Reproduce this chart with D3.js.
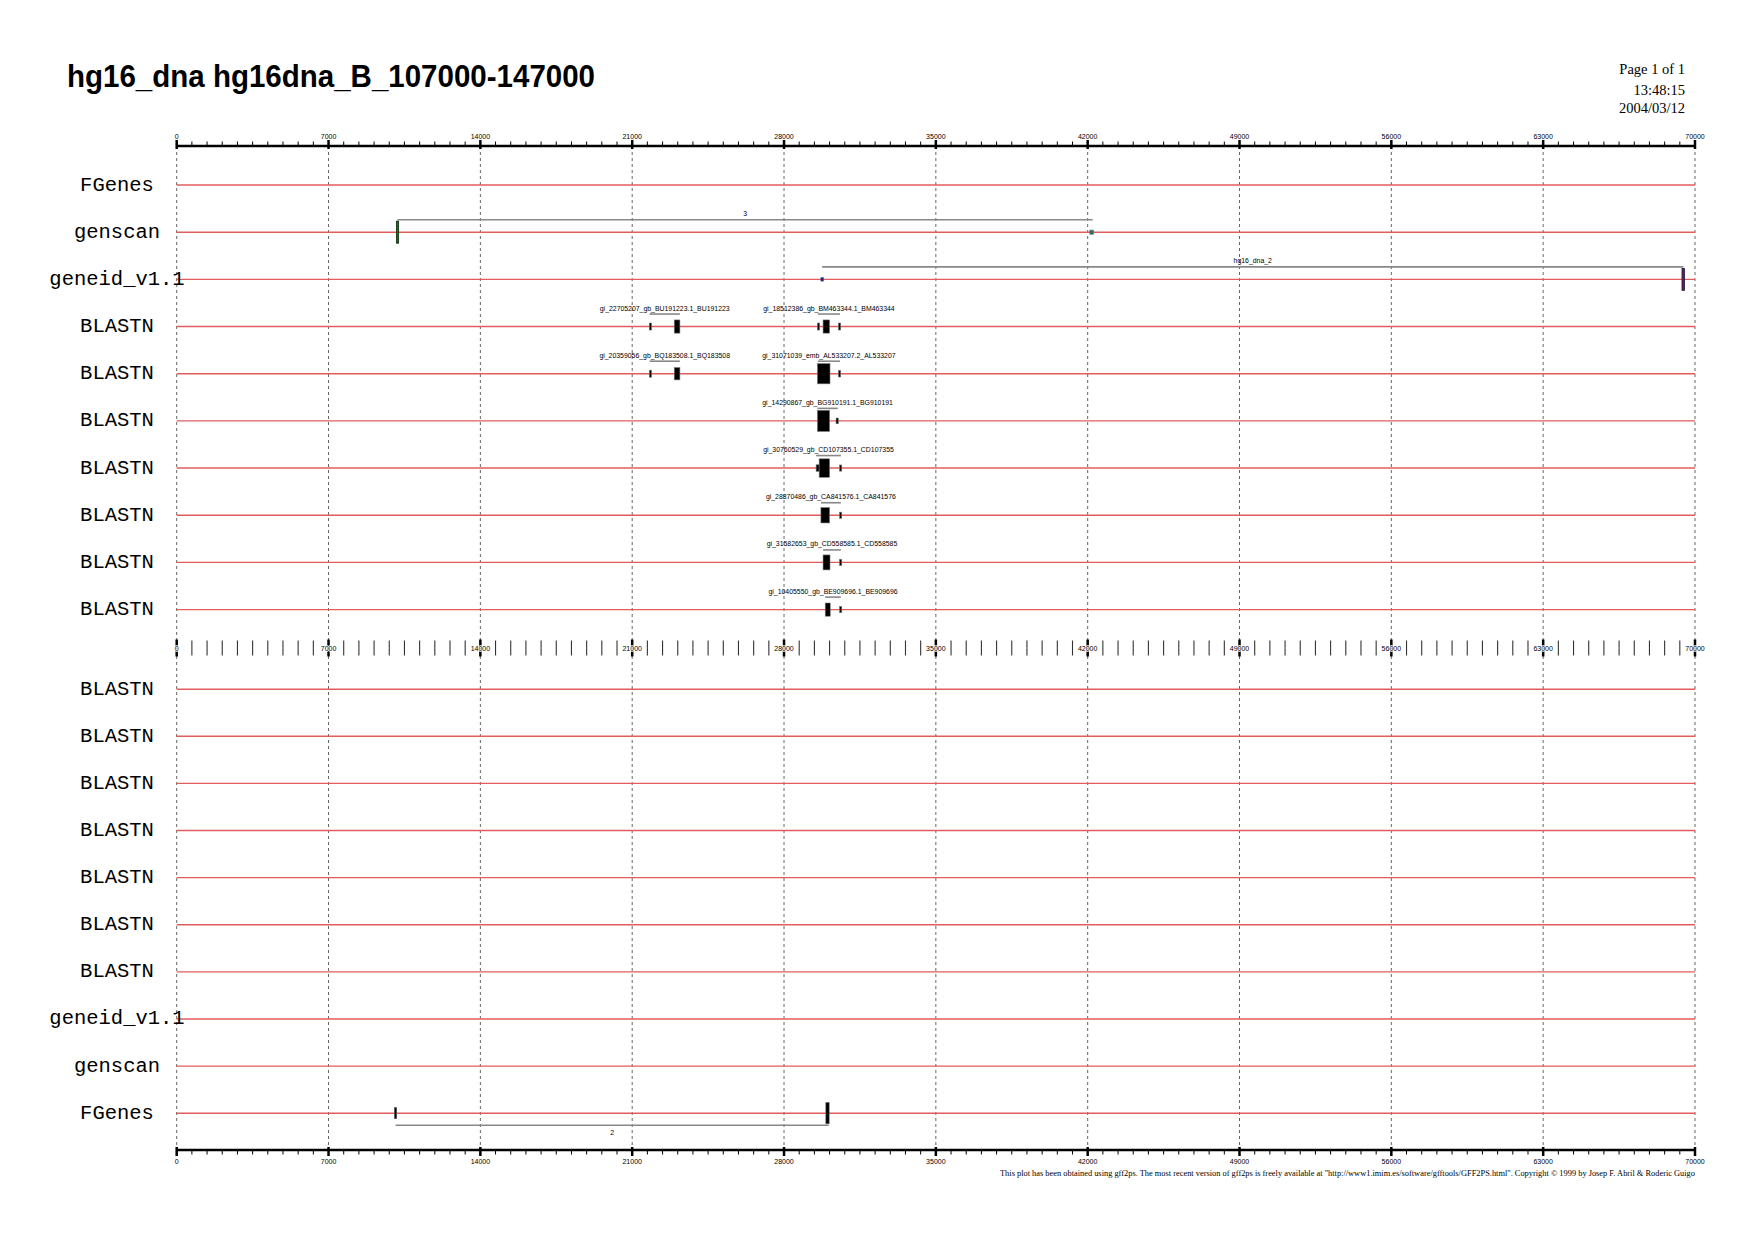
<!DOCTYPE html>
<html><head><meta charset="utf-8">
<script src="https://cdn.jsdelivr.net/npm/d3@7"></script>
<style>html,body{margin:0;padding:0;background:#fff;}svg{display:block;}</style>
</head><body>
<script>
// ---------- DATA ----------
const title = "hg16_dna hg16dna_B_107000-147000";
const headerLines = ["Page 1 of 1", "13:48:15", "2004/03/12"];
const footer = "This plot has been obtained using gff2ps. The most recent version of gff2ps is freely available at \"http://www1.imim.es/software/gfftools/GFF2PS.html\". Copyright \u00A9  1999 by Josep F. Abril & Roderic Guigo";
const seqDomain = [0, 70000];
const majorTicks = [0, 7000, 14000, 21000, 28000, 35000, 42000, 49000, 56000, 63000, 70000];
const minorStep = 700;
const topTracks = ["FGenes", "genscan", "geneid_v1.1", "BLASTN", "BLASTN", "BLASTN", "BLASTN", "BLASTN", "BLASTN", "BLASTN"];
const bottomTracks = ["BLASTN", "BLASTN", "BLASTN", "BLASTN", "BLASTN", "BLASTN", "BLASTN", "geneid_v1.1", "genscan", "FGenes"];

// features: [panel, row, start, end, score, source]
const features = [
  ["top", 1, 10130, 10230, 1.00, "genscan"],
  ["top", 1, 42100, 42260, 0.18, "genscan_s"],
  ["top", 2, 29700, 29820, 0.16, "geneid_s"],
  ["top", 2, 69400, 69520, 1.00, "geneid"],
  ["top", 3, 21790, 21870, 0.32, "blast"],
  ["top", 3, 22940, 23200, 0.60, "blast"],
  ["top", 3, 29540, 29640, 0.32, "blast"],
  ["top", 3, 29800, 30100, 0.60, "blast"],
  ["top", 3, 30510, 30600, 0.32, "blast"],
  ["top", 4, 21790, 21870, 0.32, "blast"],
  ["top", 4, 22940, 23200, 0.56, "blast"],
  ["top", 4, 29540, 30120, 0.92, "blast"],
  ["top", 4, 30510, 30600, 0.30, "blast"],
  ["top", 5, 29540, 30100, 0.96, "blast"],
  ["top", 5, 30400, 30500, 0.26, "blast"],
  ["top", 6, 29480, 29620, 0.30, "blast"],
  ["top", 6, 29620, 30100, 0.84, "blast"],
  ["top", 6, 30560, 30650, 0.28, "blast"],
  ["top", 7, 29700, 30100, 0.70, "blast"],
  ["top", 7, 30560, 30650, 0.28, "blast"],
  ["top", 8, 29800, 30120, 0.68, "blast"],
  ["top", 8, 30560, 30650, 0.28, "blast"],
  ["top", 9, 29900, 30130, 0.60, "blast"],
  ["top", 9, 30560, 30650, 0.28, "blast"],
  ["bottom", 9, 10040, 10140, 0.50, "fgenes"],
  ["bottom", 9, 29930, 30080, 0.96, "fgenes"]
];

// groups: [panel, row, start, end, label, side]
const groups = [
  ["top", 1, 10178, 42230, "3", "above"],
  ["top", 2, 29757, 69465, "hg16_dna_2", "above"],
  ["top", 3, 21800, 23200, "gi_22705207_gb_BU191223.1_BU191223", "above"],
  ["top", 3, 29560, 30580, "gi_18512386_gb_BM463344.1_BM463344", "above"],
  ["top", 4, 21800, 23200, "gi_20359056_gb_BQ183508.1_BQ183508", "above"],
  ["top", 4, 29560, 30580, "gi_31071039_emb_AL533207.2_AL533207", "above"],
  ["top", 5, 29540, 30480, "gi_14290867_gb_BG910191.1_BG910191", "above"],
  ["top", 6, 29480, 30620, "gi_30760529_gb_CD107355.1_CD107355", "above"],
  ["top", 7, 29700, 30620, "gi_28870486_gb_CA841576.1_CA841576", "above"],
  ["top", 8, 29800, 30620, "gi_31582653_gb_CD558585.1_CD558585", "above"],
  ["top", 9, 29900, 30620, "gi_10405550_gb_BE909696.1_BE909696", "above"],
  ["bottom", 9, 10090, 30060, "2", "below"]
];

// ---------- DRAW ----------
const W = 1754, H = 1240;
const svg = d3.select("body").append("svg").attr("width", W).attr("height", H);

const x = d3.scaleLinear().domain(seqDomain).range([176.7, 1695]);
const rowTop = d3.scaleLinear().domain([0, 9]).range([185, 609.6]);
const rowBottom = d3.scaleLinear().domain([0, 9]).range([689.2, 1113.2]);
const rowY = (panel, r) => panel === "top" ? rowTop(r) : rowBottom(r);
const hScale = d3.scaleLinear().domain([0, 1]).range([0, 22]);

const styles = {
  genscan: {fill: "#1d6a1d", stroke: "#0a2a0a", sw: 0.8},
  genscan_s: {fill: "#2c6a6a", stroke: "#557777", sw: 0.8},
  geneid_s: {fill: "#1b1d6e", stroke: "#5555aa", sw: 0.6},
  geneid: {fill: "#6b1e3a", stroke: "#1b1d4e", sw: 0.8},
  blast: {fill: "#000", stroke: "#777", sw: 0.6},
  fgenes: {fill: "#000", stroke: "#555", sw: 0.6}
};

// Header
svg.append("text").attr("x", 67).attr("y", 87)
  .attr("font-family", "Liberation Sans, Arial, sans-serif").attr("font-weight", "bold")
  .attr("font-size", 32).attr("textLength", 528).attr("lengthAdjust", "spacingAndGlyphs")
  .attr("fill", "#000").text(title);

svg.selectAll("text.hdr").data(headerLines).join("text").attr("class", "hdr")
  .attr("x", 1685).attr("y", (d, i) => [74, 94.5, 113][i])
  .attr("text-anchor", "end").attr("font-family", "Liberation Serif, Times New Roman, serif")
  .attr("font-size", 14.5).attr("fill", "#000").text(d => d);

// Grid dashed lines
const topAxisY = 146, midAxisY = 648, botAxisY = 1150;
svg.append("g").selectAll("line").data(majorTicks).join("line")
  .attr("x1", d => x(d)).attr("x2", d => x(d))
  .attr("y1", topAxisY).attr("y2", botAxisY)
  .attr("stroke", "#555").attr("stroke-width", 0.9).attr("stroke-dasharray", "3,3");

const minorTicks = d3.range(seqDomain[0], seqDomain[1] + 1, minorStep).filter(v => v % 7000 !== 0);

// Top axis
const ta = svg.append("g");
ta.append("line").attr("x1", x(0)).attr("x2", x(70000)).attr("y1", topAxisY).attr("y2", topAxisY)
  .attr("stroke", "#000").attr("stroke-width", 2.5);
ta.selectAll("line.mn").data(minorTicks).join("line").attr("class", "mn")
  .attr("x1", d => x(d)).attr("x2", d => x(d)).attr("y1", topAxisY - 4.5).attr("y2", topAxisY)
  .attr("stroke", "#000").attr("stroke-width", 1);
ta.selectAll("line.mj").data(majorTicks).join("line").attr("class", "mj")
  .attr("x1", d => x(d)).attr("x2", d => x(d)).attr("y1", topAxisY - 6).attr("y2", topAxisY + 3)
  .attr("stroke", "#000").attr("stroke-width", 2.5);
ta.selectAll("text").data(majorTicks).join("text")
  .attr("x", d => x(d)).attr("y", topAxisY - 7.5).attr("text-anchor", "middle")
  .attr("font-family", "Liberation Sans, Arial, sans-serif").attr("font-size", 7)
  .attr("fill", "#000").text(d => d);

// Bottom axis
const ba = svg.append("g");
ba.append("line").attr("x1", x(0)).attr("x2", x(70000)).attr("y1", botAxisY).attr("y2", botAxisY)
  .attr("stroke", "#000").attr("stroke-width", 2.5);
ba.selectAll("line.mn").data(minorTicks).join("line").attr("class", "mn")
  .attr("x1", d => x(d)).attr("x2", d => x(d)).attr("y1", botAxisY).attr("y2", botAxisY + 4.5)
  .attr("stroke", "#000").attr("stroke-width", 1);
ba.selectAll("line.mj").data(majorTicks).join("line").attr("class", "mj")
  .attr("x1", d => x(d)).attr("x2", d => x(d)).attr("y1", botAxisY - 3).attr("y2", botAxisY + 6)
  .attr("stroke", "#000").attr("stroke-width", 2.5);
ba.selectAll("text").data(majorTicks).join("text")
  .attr("x", d => x(d)).attr("y", botAxisY + 13.5).attr("text-anchor", "middle")
  .attr("font-family", "Liberation Sans, Arial, sans-serif").attr("font-size", 7)
  .attr("fill", "#000").text(d => d);

// Middle axis (tick marks only)
const ma = svg.append("g");
ma.selectAll("line.mn").data(minorTicks).join("line").attr("class", "mn")
  .attr("x1", d => x(d)).attr("x2", d => x(d)).attr("y1", midAxisY - 7.5).attr("y2", midAxisY + 7.5)
  .attr("stroke", "#333").attr("stroke-width", 1.1);
ma.selectAll("line.mj").data(majorTicks).join("line").attr("class", "mj")
  .attr("x1", d => x(d)).attr("x2", d => x(d)).attr("y1", midAxisY - 8.5).attr("y2", midAxisY + 8.5)
  .attr("stroke", "#000").attr("stroke-width", 2.5);
ma.selectAll("text").data(majorTicks).join("text")
  .attr("x", d => x(d)).attr("y", midAxisY + 2.5).attr("text-anchor", "middle")
  .attr("font-family", "Liberation Sans, Arial, sans-serif").attr("font-size", 7)
  .attr("stroke", "#fff").attr("stroke-width", 1.6).attr("paint-order", "stroke")
  .attr("fill", "#000").text(d => d);

// Track lines + labels
function drawTracks(names, panel) {
  const g = svg.append("g");
  g.selectAll("line").data(names).join("line")
    .attr("x1", x(0)).attr("x2", x(70000))
    .attr("y1", (d, i) => rowY(panel, i)).attr("y2", (d, i) => rowY(panel, i))
    .attr("stroke", "#e25c5c").attr("stroke-width", 1.4);
  g.selectAll("text").data(names).join("text")
    .attr("x", 117).attr("y", (d, i) => rowY(panel, i) + 5.5)
    .attr("text-anchor", "middle").attr("font-family", "Liberation Mono, Courier New, monospace")
    .attr("font-size", 20.5).attr("fill", "#000").text(d => d);
}
drawTracks(topTracks, "top");
drawTracks(bottomTracks, "bottom");

// Group connectors & labels
const gg = svg.append("g");
groups.forEach(([panel, r, s, e, lab, side]) => {
  const y0 = rowY(panel, r);
  const ly = side === "above" ? y0 - 12.5 : y0 + 12;
  gg.append("line").attr("x1", x(s)).attr("x2", x(e)).attr("y1", ly).attr("y2", ly)
    .attr("stroke", "#888").attr("stroke-width", 1.6);
  gg.append("text").attr("x", (x(s) + x(e)) / 2)
    .attr("y", side === "above" ? y0 - 16 : y0 + 22)
    .attr("text-anchor", "middle").attr("font-family", "Liberation Sans, Arial, sans-serif")
    .attr("font-size", 6.9).attr("fill", "#000").text(lab);
});

// Feature boxes
const fg = svg.append("g");
fg.selectAll("rect").data(features).join("rect")
  .attr("x", d => x(d[2]))
  .attr("width", d => Math.max(2.2, x(d[3]) - x(d[2])))
  .attr("y", d => rowY(d[0], d[1]) - Math.max(3.5, hScale(d[4])) / 2)
  .attr("height", d => Math.max(3.5, hScale(d[4])))
  .attr("fill", d => styles[d[5]].fill)
  .attr("stroke", d => styles[d[5]].stroke)
  .attr("stroke-width", d => styles[d[5]].sw);

// Footer
svg.append("text").attr("x", 1695).attr("y", 1175.5).attr("text-anchor", "end")
  .attr("font-family", "Liberation Serif, Times New Roman, serif").attr("font-size", 8.2)
  .attr("textLength", 695).attr("lengthAdjust", "spacingAndGlyphs")
  .attr("fill", "#000").text(footer);
</script>
</body></html>
